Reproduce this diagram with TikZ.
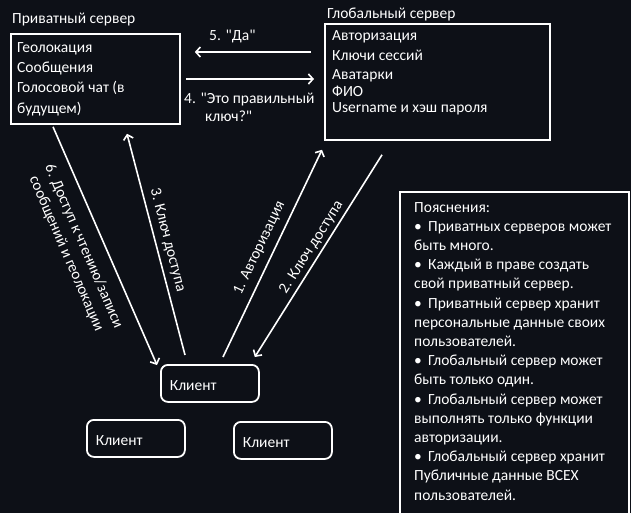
\documentclass[tikz,border=0pt]{standalone}
\usepackage{fontspec}
\setmainfont{Carlito}[Ligatures=TeXOff]
\usetikzlibrary{positioning, calc, arrows.meta}

\definecolor{bgdark}{RGB}{13,16,23}
\newcommand{\notebullet}{\makebox[14pt][l]{•}}

\tikzset{
  box/.style={draw=white, line width=1.8pt, anchor=north west, inner sep=0pt},
  clientbox/.style={box, rounded corners=7pt, minimum width=98pt, minimum height=37pt,
    text width=80pt, inner xsep=9pt, align=left, text=white, text height=15pt, text depth=0pt,
    font=\fontsize{15.5}{18}\selectfont},
  txt/.style={text=white, font=\fontsize{15.5}{18.5}\selectfont, inner sep=0pt, anchor=base west, align=left},
  sidetxt/.style={txt, anchor=center, align=center},
  arr/.style={white, line width=1.6pt, -{Straight Barb[length=4.5pt,width=10pt]}},
}

\begin{document}
\begin{tikzpicture}[x=1pt, y=-1pt]
  \fill[bgdark] (0,0) rectangle (631,513);
  \useasboundingbox (0,0) rectangle (631,513);
  \clip (0,0) rectangle (631,513);

  % private server (multi-line texts sit on their last baseline)
  \node[txt] (privtitle) at (12,23.5) {Приватный сервер};
  \node[box, minimum width=169pt, minimum height=90pt] (priv) at (10,33) {};
  \node[txt, font=\fontsize{15.5}{20.3}\selectfont] (privtext) at (17,113.3)
    {Геолокация\\Сообщения\\Голосовой чат (в\\будущем)};

  % global server
  \node[txt] (globtitle) at (327,18.3) {Глобальный сервер};
  \node[box, minimum width=225pt, minimum height=116pt] (glob) at (324,23) {};
  \node[txt, font=\fontsize{15.5}{16.5}\selectfont] (globtext) at (332,112.3)
    {Авторизация\\[3.5pt]Ключи сессий\\[2.8pt]Аватарки\\[0.3pt]ФИО\\[-0.8pt]Username и хэш пароля};

  % clients
  \node[clientbox] (cli1) at (160,364) {Клиент};
  \node[clientbox] (cli2) at (86,419) {Клиент};
  \node[clientbox] (cli3) at (233,421) {Клиент};

  % server to server
  \draw[arr] ($(glob.north west)+(-13,29)$) -- ($(priv.north east)+(14,19)$);
  \node[txt] (lab5) at (209,40.7) {5. "Да"};
  \draw[arr] ($(priv.north east)+(5,46)$) -- ($(glob.north west)+(-10,56)$);
  \node[txt] (lab4) at (184,121.7) {4. "Это правильный\\\hspace*{21pt}ключ?"};

  % client to servers
  \draw[arr] ($(priv.south west)+(43,2)$) -- ($(cli1.north west)+(-3,1)$);
  \draw[arr] ($(cli1.north west)+(25,-9)$) -- ($(priv.south west)+(117,9)$);
  \draw[arr] ($(cli1.north west)+(63,-7)$) -- ($(glob.south west)+(-2,9)$);
  \draw[arr] ($(glob.south west)+(58,14)$) -- ($(cli1.north east)+(-5,-7)$);
  \node[sidetxt, rotate=-66.6, font=\fontsize{15.5}{19}\selectfont] (lab6) at (75,250)
    {6. Доступ к чтению/записи\\сообщений и геолокации};
  \node[sidetxt, rotate=-75.5] (lab3) at (167.5,240) {3. Ключ доступа};
  \node[sidetxt, rotate=64.5] (lab1) at (259.5,248) {1. Авторизация};
  \node[sidetxt, rotate=57.7] (lab2) at (311.5,247.5) {2. Ключ доступа};

  % notes
  \node[box, minimum width=229pt, minimum height=330pt] (notes) at (399,191) {};
  \node[txt, font=\fontsize{15.5}{19.2}\selectfont] (notestext) at (414,500)
    {Пояснения:\\
     \notebullet Приватных серверов может\\
     быть много.\\
     \notebullet Каждый в праве создать\\
     свой приватный сервер.\\
     \notebullet Приватный сервер хранит\\
     персональные данные своих\\
     пользователей.\\
     \notebullet Глобальный сервер может\\
     быть только один.\\
     \notebullet Глобальный сервер может\\
     выполнять только функции\\
     авторизации.\\
     \notebullet Глобальный сервер хранит\\
     Публичные данные ВСЕХ\\
     пользователей.};
\end{tikzpicture}
\end{document}
